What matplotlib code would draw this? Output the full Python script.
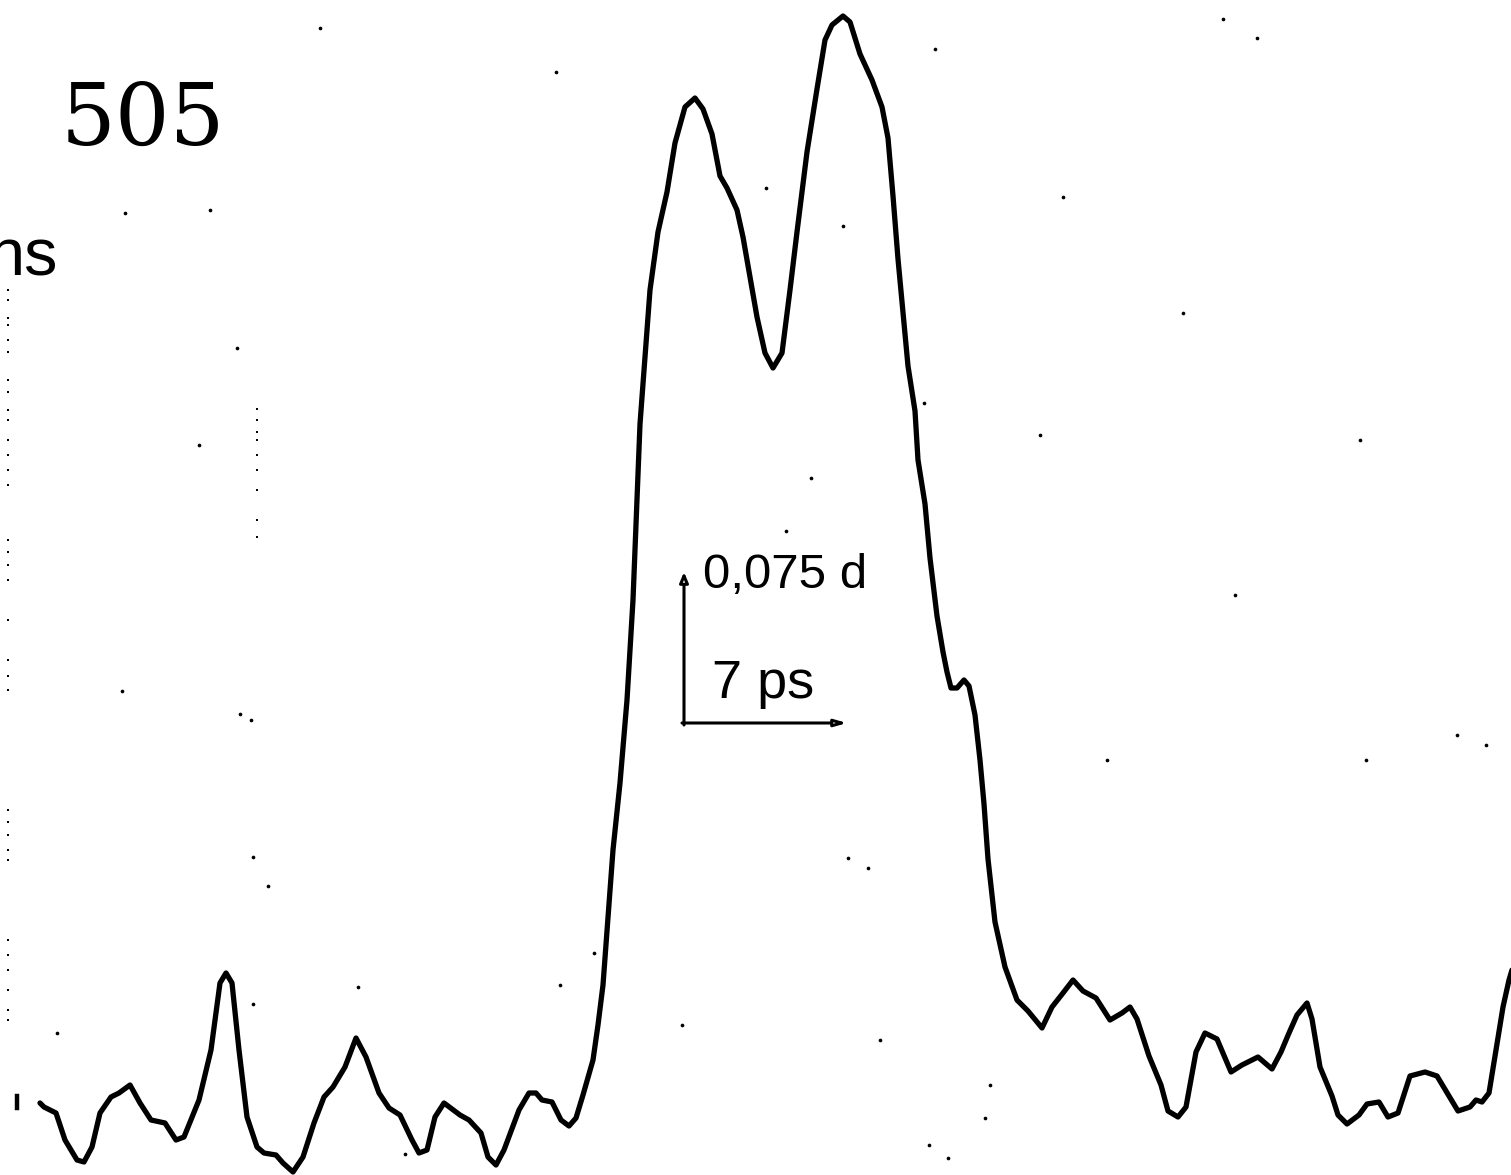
import matplotlib
matplotlib.use("Agg")
import matplotlib.pyplot as plt

# trace, in picture pixels (x right, y down)
trace_x = [40, 44, 56, 65, 77, 84, 92, 100, 111, 119, 130, 140, 151, 165, 176, 184,
           199, 211, 220, 226, 232, 239, 247, 257, 264, 276, 283, 293, 303, 314, 324,
           333, 345, 356, 366, 379, 389, 400, 412, 419, 427, 435, 444, 460, 469, 481,
           488, 496, 504, 519, 529, 536, 542, 552, 561, 569, 576, 583, 593, 598, 603,
           608, 613, 620, 627, 633, 640, 645, 650, 658, 667, 675, 685, 695, 703, 712,
           720, 727, 737, 743, 750, 757, 765, 773, 782, 790, 797, 807, 817, 825, 832,
           843, 850, 860, 872, 882, 888, 893, 898, 903, 908, 915, 918, 925, 930, 937,
           943, 947, 951, 957, 964, 969, 975, 980, 984, 988, 995, 1005, 1017, 1028,
           1042, 1052, 1063, 1073, 1083, 1096, 1110, 1122, 1130, 1137, 1149, 1161,
           1168, 1178, 1186, 1196, 1205, 1217, 1231, 1242, 1258, 1272, 1281, 1289,
           1297, 1307, 1312, 1320, 1332, 1338, 1347, 1359, 1367, 1379, 1388, 1398,
           1410, 1425, 1437, 1449, 1458, 1470, 1476, 1482, 1489, 1495, 1503, 1509, 1515]
trace_y = [1103, 1107, 1113, 1140, 1160, 1162, 1147, 1113, 1097, 1093, 1085, 1103, 1120,
           1123, 1140, 1137, 1100, 1050, 983, 973, 983, 1050, 1117, 1147, 1153, 1155,
           1163, 1172, 1157, 1123, 1097, 1087, 1067, 1038, 1057, 1093, 1108, 1115, 1140,
           1153, 1150, 1117, 1103, 1115, 1120, 1133, 1157, 1165, 1150, 1110, 1093, 1093,
           1100, 1102, 1120, 1126, 1118, 1095, 1060, 1025, 985, 917, 850, 783, 700, 600,
           424, 357, 290, 232, 192, 143, 107, 98, 109, 134, 176, 188, 210, 237, 277, 317,
           353, 368, 353, 290, 232, 152, 89, 40, 25, 16, 22, 54, 80, 107, 138, 196, 259,
           313, 366, 411, 460, 504, 558, 616, 652, 672, 688, 688, 680, 686, 715, 760,
           804, 859, 922, 967, 1000, 1011, 1028, 1007, 993, 980, 991, 998, 1020, 1013,
           1007, 1019, 1056, 1085, 1111, 1117, 1107, 1052, 1033, 1039, 1072, 1065, 1057,
           1069, 1052, 1033, 1015, 1003, 1019, 1067, 1096, 1115, 1124, 1115, 1104, 1102,
           1117, 1113, 1076, 1072, 1076, 1096, 1111, 1107, 1100, 1102, 1093, 1056, 1007,
           980, 960]

# scattered specks of the scan
dot_x = [125, 210, 237, 199, 122, 240, 251, 268, 253, 57, 253, 358, 405, 560, 594,
         320, 556, 766, 843, 811, 786, 924, 935, 1063, 1040, 1223, 1257, 1235, 1107,
         1366, 1457, 1486, 985, 929, 948, 848, 868, 682, 880, 990, 1183, 1360]
dot_y = [213, 210, 348, 445, 691, 714, 720, 886, 857, 1033, 1004, 987, 1154, 985, 953,
         28, 72, 188, 226, 478, 531, 403, 49, 197, 435, 19, 38, 595, 760, 760, 735,
         745, 1118, 1145, 1158, 858, 868, 1025, 1040, 1085, 313, 440]

# dotted rulings at the left edge and near x=257
rule_left_y = [290, 300, 318, 325, 340, 352, 380, 392, 410, 420, 440, 455, 470, 485,
               540, 552, 565, 580, 620, 660, 676, 690, 810, 822, 835, 850, 860, 940,
               955, 970, 990, 1010, 1020]
rule_mid_y = [409, 420, 432, 440, 455, 470, 490, 520, 537]

fig = plt.figure(figsize=(15.11, 11.75), dpi=100)
ax = fig.add_axes([0, 0, 1, 1])
ax.set_xlim(0, 1511)
ax.set_ylim(1175, 0)
ax.axis('off')

ax.plot(trace_x, trace_y, color='black', lw=3.8,
        solid_joinstyle='round', solid_capstyle='round')
ax.scatter(dot_x, dot_y, s=7, color='black', linewidths=0)
ax.scatter([8] * len(rule_left_y), rule_left_y, s=4, marker='s', color='black', linewidths=0)
ax.scatter([257] * len(rule_mid_y), rule_mid_y, s=4, marker='s', color='black', linewidths=0)
ax.plot([17, 17], [1096, 1108], color='black', lw=3.2)

# labels
ax.text(143, 145, "505", fontsize=62, fontfamily='DejaVu Serif',
        ha='center', va='baseline', color='black')
# the scan cuts this word at the left edge
ax.text(-12, 276, "ns", fontsize=48, fontfamily='Liberation Sans',
        ha='left', va='baseline', color='black')
ax.text(703, 588, "0,075 d", fontsize=35.5, fontfamily='Liberation Sans',
        ha='left', va='baseline', color='black')
ax.text(712, 698, "7 ps", fontsize=39, fontfamily='Liberation Sans',
        ha='left', va='baseline', color='black')

# scale arrows
ax.annotate("", xy=(684, 572), xytext=(684, 725),
            arrowprops=dict(arrowstyle='-|>,head_length=0.6,head_width=0.25',
                            fc='white', ec='black', lw=2.2, shrinkA=0, shrinkB=0))
ax.annotate("", xy=(847, 723), xytext=(682, 723),
            arrowprops=dict(arrowstyle='-|>,head_length=0.7,head_width=0.2',
                            fc='white', ec='black', lw=2.2, shrinkA=0, shrinkB=0))

fig.savefig("out.png", dpi=100, facecolor='white')
